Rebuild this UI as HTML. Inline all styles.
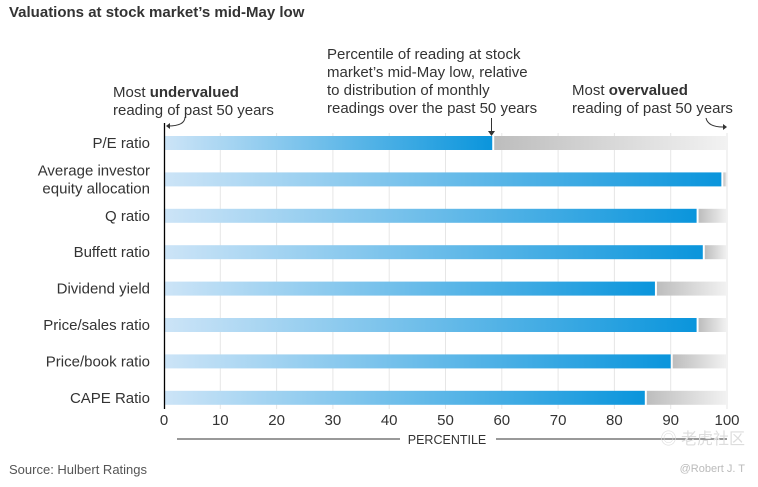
<!DOCTYPE html>
<html><head><meta charset="utf-8"><style>
body{margin:0;background:#fff;font-family:"Liberation Sans",sans-serif;}
#c{position:relative;width:758px;height:487px;overflow:hidden}
</style></head><body>
<div id="c">
<svg id="s" width="758" height="487" xmlns="http://www.w3.org/2000/svg" font-family="Liberation Sans, sans-serif">
<defs>
<linearGradient id="blue" x1="0" x2="1" y1="0" y2="0"><stop offset="0" stop-color="#cce4f7"/><stop offset="1" stop-color="#0a95dc"/></linearGradient>
<linearGradient id="grey" x1="0" x2="1" y1="0" y2="0"><stop offset="0" stop-color="#bdbdbd"/><stop offset="1" stop-color="#f2f2f2"/></linearGradient>
</defs>
<text x="9" y="17" font-size="15" font-weight="bold" fill="#333">Valuations at stock market’s mid-May low</text>
<g id="grid"></g>
<g id="bars"></g>
<g id="ticks"></g>
<line x1="164.5" y1="123" x2="164.5" y2="409" stroke="#000" stroke-width="1.3"/>
<text x="113" y="97" font-size="15" fill="#333">Most <tspan font-weight="bold">undervalued</tspan></text>
<text x="113" y="115" font-size="15" fill="#333">reading of past 50 years</text>
<path d="M185,117 q0,9 -17,9" fill="none" stroke="#333" stroke-width="1"/><path d="M166,126 l4,-3 v6z" fill="#333"/>
<text x="327" y="59" font-size="15" fill="#333">Percentile of reading at stock</text>
<text x="327" y="77" font-size="15" fill="#333">market’s mid-May low, relative</text>
<text x="327" y="95" font-size="15" fill="#333">to distribution of monthly</text>
<text x="327" y="113" font-size="15" fill="#333">readings over the past 50 years</text>
<line x1="491.5" y1="118" x2="491.5" y2="133" stroke="#333"/><path d="M488,131 l3.5,5 l3.5,-5z" fill="#333"/>
<text x="572" y="95" font-size="15" fill="#333">Most <tspan font-weight="bold">overvalued</tspan></text>
<text x="572" y="113" font-size="15" fill="#333">reading of past 50 years</text>
<path d="M706,118 q2,9 17,9" fill="none" stroke="#333" stroke-width="1"/><path d="M727,127 l-4,-3 v6z" fill="#333"/>
<line x1="177" y1="439" x2="400" y2="439" stroke="#333"/>
<line x1="496" y1="439" x2="727" y2="439" stroke="#333"/>
<text x="447" y="444" font-size="12.5" fill="#333" text-anchor="middle">PERCENTILE</text>
<text x="9" y="474" font-size="13" fill="#555">Source: Hulbert Ratings</text>
<text x="745" y="444" font-size="16" fill="#ddd" text-anchor="end" font-family="Liberation Sans, Noto Sans CJK SC, sans-serif">◎ 老虎社区</text>
<text x="745" y="472" font-size="11" fill="#bbb" text-anchor="end">@Robert J. T</text>
</svg>
</div>
<script>
const categories=["P/E ratio","Average investor|equity allocation","Q ratio","Buffett ratio","Dividend yield","Price/sales ratio","Price/book ratio","CAPE Ratio"];
const values=[58.3,99.0,94.6,95.7,87.2,94.6,90.0,85.4];
const tickLabels=[0,10,20,30,40,50,60,70,80,90,100];
const NS="http://www.w3.org/2000/svg";
const x=v=>164+v*5.63;
const yRow=i=>143+i*36.4;
function mk(t,a,p){const e=document.createElementNS(NS,t);for(const k in a)e.setAttribute(k,a[k]);p.appendChild(e);return e;}
const g=document.getElementById('grid'),b=document.getElementById('bars'),tk=document.getElementById('ticks');
tickLabels.forEach(v=>{
 if(v>0){const l=mk('line',{x1:x(v),x2:x(v),y1:133,y2:409,stroke:'#e6e6e6'},g);
 
 }
 const t=mk('text',{x:x(v),y:425,'font-size':15,fill:'#333','text-anchor':'middle'},tk);
 t.textContent=v;
 
 
});
categories.forEach((c,i)=>{
 const yc=yRow(i),v=values[i];
 const bg=mk('rect',{x:x(v)+2,y:yc-7,width:Math.max(0,x(100)-x(v)-2),height:14,fill:'url(#grey)'},b);
 
 
 const r=mk('rect',{x:x(0)+1,y:yc-7,width:x(v)-x(0)-1,height:14,fill:'url(#blue)'},b);
 
 
 const parts=c.split('|');
 parts.forEach((p,j)=>{
  const t=mk('text',{x:150,y:yc+5+(j-(parts.length-1)/2)*18,'font-size':15,fill:'#333','text-anchor':'end'},b);
  t.textContent=p;
  
  
 });
});
</script>
</body></html>
